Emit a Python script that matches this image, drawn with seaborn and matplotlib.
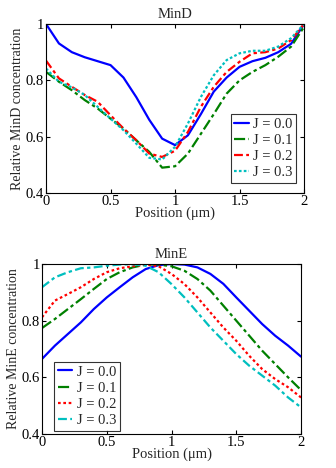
import matplotlib
matplotlib.use("Agg")
import matplotlib.pyplot as plt
from matplotlib.ticker import FuncFormatter
import seaborn as sns
import pandas as pd

sns.set_theme(style="white")
plt.rcParams["font.family"] = ["Liberation Serif", "DejaVu Serif"]
plt.rcParams["mathtext.fontset"] = "stix"

position = [0.0, 0.1, 0.2, 0.3, 0.4, 0.5, 0.6, 0.7, 0.8, 0.9, 1.0,
            1.1, 1.2, 1.3, 1.4, 1.5, 1.6, 1.7, 1.8, 1.9, 2.0]
labels = ["J = 0.0", "J = 0.1", "J = 0.2", "J = 0.3"]

# MinD profiles
mind_j00 = [1.000, 0.931, 0.900, 0.882, 0.868, 0.854, 0.810, 0.740, 0.660, 0.593, 0.570,
            0.605, 0.680, 0.760, 0.810, 0.848, 0.868, 0.880, 0.900, 0.930, 1.000]
mind_j01 = [0.830, 0.795, 0.765, 0.730, 0.700, 0.664, 0.629, 0.587, 0.546, 0.490, 0.495,
            0.540, 0.610, 0.680, 0.753, 0.800, 0.830, 0.854, 0.884, 0.920, 0.990]
mind_j02 = [0.870, 0.807, 0.777, 0.748, 0.724, 0.676, 0.629, 0.587, 0.540, 0.528, 0.550,
            0.617, 0.706, 0.777, 0.830, 0.866, 0.896, 0.900, 0.913, 0.943, 1.000]
mind_j03 = [0.842, 0.795, 0.775, 0.748, 0.706, 0.664, 0.623, 0.575, 0.525, 0.519, 0.564,
            0.647, 0.741, 0.818, 0.872, 0.896, 0.905, 0.905, 0.920, 0.950, 1.000]

# MinE profiles
mine_j00 = [0.665, 0.712, 0.753, 0.794, 0.841, 0.882, 0.918, 0.953, 0.982, 0.996, 1.000,
            0.998, 0.988, 0.965, 0.930, 0.882, 0.835, 0.788, 0.747, 0.712, 0.673]
mine_j01 = [0.774, 0.806, 0.841, 0.876, 0.912, 0.947, 0.971, 0.988, 0.998, 0.998, 0.992,
            0.976, 0.947, 0.906, 0.853, 0.800, 0.747, 0.694, 0.647, 0.600, 0.555]
mine_j02 = [0.812, 0.871, 0.894, 0.918, 0.947, 0.971, 0.985, 0.992, 0.998, 0.992, 0.965,
            0.929, 0.882, 0.829, 0.776, 0.729, 0.676, 0.629, 0.594, 0.565, 0.529]
mine_j03 = [0.918, 0.953, 0.971, 0.985, 0.988, 0.994, 0.998, 0.999, 0.994, 0.971, 0.929,
            0.882, 0.829, 0.776, 0.729, 0.682, 0.641, 0.606, 0.571, 0.529, 0.494]

colors = ["#0000ff", "#008000", "#ff0000", "#00bfbf"]
mind_styles = ["-", (0, (5, 1.5, 1.5, 1.5)), (0, (4, 1.5, 1.5, 1.5)), (0, (1.2, 1))]
mine_styles = ["-", (0, (5, 1.5, 1.5, 1.5)), (0, (1.2, 1.2)), (0, (4, 1.5, 1.5, 1.5))]

fig = plt.figure(figsize=(3.36, 4.68), dpi=100)
ax1 = fig.add_axes([0.137, 0.5876, 0.768, 0.3611])
ax2 = fig.add_axes([0.125, 0.0726, 0.771, 0.3633])

fs = 10.5
fmt = FuncFormatter(lambda v, p: f"{v:g}")


def draw(ax, series, styles, title, ylabel, legend_loc, legend_anchor):
    for vals, lab, col, ls in zip(series, labels, colors, styles):
        df = pd.DataFrame({"x": position, "y": vals})
        sns.lineplot(data=df, x="x", y="y", ax=ax, color=col, linewidth=1.6,
                     linestyle=ls, label=lab)
    ax.set_xlim(0, 2)
    ax.set_ylim(0.4, 1.0)
    ax.set_xticks([0, 0.5, 1, 1.5, 2])
    ax.set_yticks([0.4, 0.6, 0.8, 1.0])
    ax.xaxis.set_major_formatter(fmt)
    ax.yaxis.set_major_formatter(fmt)
    ax.tick_params(direction="in", length=3, width=0.8, top=True, right=True,
                   bottom=True, left=True, labelsize=fs, pad=1.5, colors="black")
    for s in ax.spines.values():
        s.set_color("black")
        s.set_linewidth(0.8)
    ax.set_title(title, fontsize=fs, pad=4)
    ax.set_xlabel("Position (μm)", fontsize=fs, labelpad=-1)
    ax.set_ylabel(ylabel, fontsize=10, labelpad=1)
    leg = ax.legend(loc=legend_loc, bbox_to_anchor=legend_anchor, fontsize=fs,
                    frameon=True, fancybox=False, handlelength=1.0, handletextpad=0.3,
                    borderpad=0.25, labelspacing=0.2, borderaxespad=0)
    leg.get_frame().set_edgecolor("black")
    leg.get_frame().set_linewidth(0.8)


draw(ax1, [mind_j00, mind_j01, mind_j02, mind_j03], mind_styles, "MinD",
     "Relative MinD concentration", "lower right", (0.97, 0.06))
draw(ax2, [mine_j00, mine_j01, mine_j02, mine_j03], mine_styles, "MinE",
     "Relative MinE concentration", "lower left", (0.046, 0.02))

fig.savefig("out.png", dpi=100, facecolor="white")
